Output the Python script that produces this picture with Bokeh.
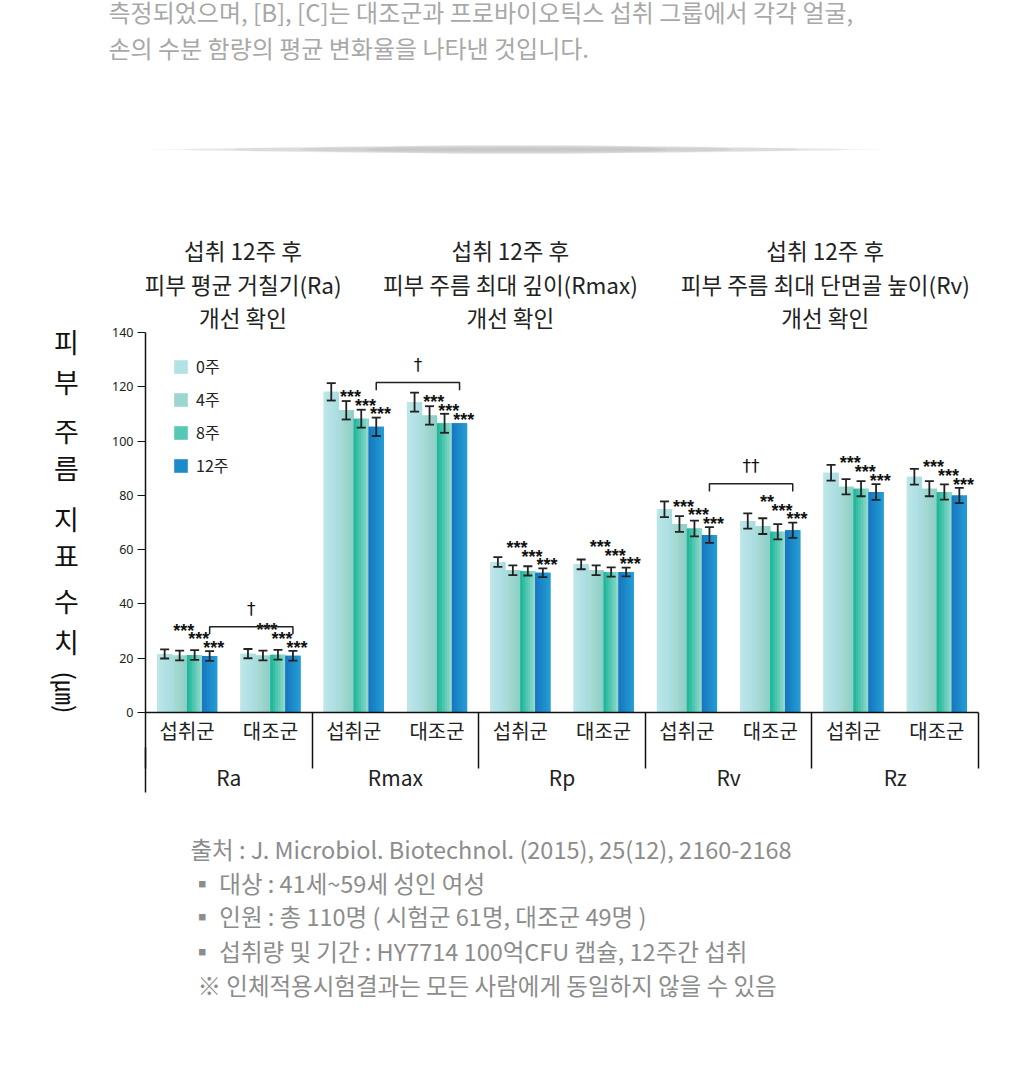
import numpy as np
from bokeh.plotting import figure
from bokeh.layouts import column, row
from bokeh.models import (ColumnDataSource, FixedTicker, LinearAxis, Range1d, Legend,
                          LegendItem, Whisker, TeeHead)
from bokeh.core.properties import value
from bokeh.embed import file_html
from bokeh.resources import INLINE

# ---------------- data ----------------
metrics = ["Ra", "Rmax", "Rp", "Rv", "Rz"]
groups = ["섭취군", "대조군"]
weeks = ["0주", "4주", "8주", "12주"]

# cluster order: Ra-섭취, Ra-대조, Rmax-섭취, Rmax-대조, Rp-섭취, Rp-대조, Rv-섭취, Rv-대조, Rz-섭취, Rz-대조
w0 = [21.6, 21.7, 118.2, 114.4, 55.5, 54.6, 74.9, 70.6, 88.4, 86.9]
w4 = [21.0, 21.0, 111.4, 109.5, 52.4, 52.4, 69.5, 68.7, 83.2, 82.5]
w8 = [21.2, 21.3, 108.3, 106.6, 52.2, 51.8, 67.8, 66.6, 82.5, 81.3]
w12 = [20.8, 20.9, 105.3, 106.6, 51.5, 51.8, 65.4, 67.2, 81.3, 80.0]

e0 = [1.7, 1.7, 3.2, 3.5, 1.8, 1.8, 2.9, 2.8, 2.9, 2.9]
e4 = [1.8, 1.8, 3.4, 3.4, 1.8, 1.8, 2.9, 2.9, 2.8, 2.8]
e8 = [1.8, 1.8, 3.3, 3.5, 1.7, 1.7, 2.9, 2.8, 2.8, 2.8]
e12 = [1.8, 1.8, 3.4, None, 1.6, 1.6, 2.9, 2.8, 2.9, 2.8]

sig4 = ["***", "***", "***", "***", "***", "***", "***", "**", "***", "***"]
sig8 = ["***"] * 10
sig12 = ["***"] * 10

bracket_metrics = ["Ra", "Rmax", "Rv"]
bracket_marks = ["†", "†", "††"]
bracket_levels = [31.6, 121.6, 84.3]

titles = [
    ["섭취 12주 후", "피부 평균 거칠기(Ra)", "개선 확인"],
    ["섭취 12주 후", "피부 주름 최대 깊이(Rmax)", "개선 확인"],
    ["섭취 12주 후", "피부 주름 최대 단면골 높이(Rv)", "개선 확인"],
]
y_ticks = [0, 20, 40, 60, 80, 100, 120, 140]
y_label_chars = ["피", "부", "주", "름", "지", "표", "수", "치"]
y_unit = "(㎛)"

top_lines = ["측정되었으며, [B], [C]는 대조군과 프로바이오틱스 섭취 그룹에서 각각 얼굴,",
             "손의 수분 함량의 평균 변화율을 나타낸 것입니다."]
notes = ["출처 : J. Microbiol. Biotechnol. (2015), 25(12), 2160-2168",
         "▪ 대상 : 41세~59세 성인 여성",
         "▪ 인원 : 총 110명 ( 시험군 61명, 대조군 49명 )",
         "▪ 섭취량 및 기간 : HY7714  100억CFU 캡슐, 12주간 섭취",
         "※ 인체적용시험결과는 모든 사람에게 동일하지 않을 수 있음"]

# ---------------- layout / style ----------------
W, H = 1024, 1092
TOP_H = 72            # top text strip
MAIN_BOTTOM = 800     # canvas y where main figure ends
LEFT_W = 100          # left strip for vertical label
FL, FR, FB = 145, 978, 712   # frame left/right/bottom in canvas px
PX_PER_UNIT = 2.713
KFONT = "Noto Sans CJK KR"
# (left edge colour, right edge colour) of each bar's horizontal gradient
grad = [("#bde6e9", "#a9dde1"), ("#a9dcd6", "#8fcfc6"),
        ("#1fb89b", "#8fd8cb"), ("#1878c1", "#229bd3")]
offsets = [-0.27, -0.09, 0.09, 0.27]
bar_w = 0.18
SLICES = 6


def mix(c1, c2, t):
    a = [int(c1[i:i + 2], 16) for i in (1, 3, 5)]
    b = [int(c2[i:i + 2], 16) for i in (1, 3, 5)]
    return "#%02x%02x%02x" % tuple(round(a[j] + (b[j] - a[j]) * t) for j in range(3))


main_h = MAIN_BOTTOM - TOP_H
main_w = W - LEFT_W
p = figure(width=main_w, height=main_h, output_backend="svg", toolbar_location=None,
           title=None, x_range=Range1d(0, 10),
           y_range=Range1d(0, (FB - TOP_H) / PX_PER_UNIT),
           min_border_left=FL - LEFT_W, min_border_right=W - FR, min_border_top=0,
           min_border_bottom=MAIN_BOTTOM - FB, background_fill_color="white",
           border_fill_color="white", outline_line_color=None)
p.grid.visible = False

n = len(w0)
centers = np.arange(n) + 0.5
series = [w0, w4, w8, w12]
errs = [e0, e4, e8, e12]
renderers = []
for k in range(4):
    xs = centers + offsets[k]
    src = ColumnDataSource(dict(x=xs, top=series[k]))
    r = p.vbar(x="x", top="top", width=bar_w, source=src,
               fill_color=mix(grad[k][0], grad[k][1], 0.5), line_color=None)
    renderers.append(r)
    # gradient slices drawn over the base bar
    sw = bar_w / SLICES
    for j in range(SLICES):
        col = mix(grad[k][0], grad[k][1], j / (SLICES - 1))
        p.vbar(x=xs - bar_w / 2 + sw * (j + 0.5), top=series[k], width=sw * 1.15,
               fill_color=col, line_color=None)
    xe, up, lo = [], [], []
    for i in range(n):
        if errs[k][i] is not None:
            xe.append(xs[i]); up.append(series[k][i] + errs[k][i]); lo.append(series[k][i] - errs[k][i])
    esrc = ColumnDataSource(dict(x=xe, upper=up, lower=lo))
    p.add_layout(Whisker(source=esrc, base="x", upper="upper", lower="lower",
                         line_color="#222222", line_width=1.8, level="annotation",
                         upper_head=TeeHead(size=9, line_width=1.8, line_color="#222222"),
                         lower_head=TeeHead(size=9, line_width=1.8, line_color="#222222")))

# significance stars (staircase above error bars)
base, step = 1.2, 3.2
sx, sy, st = [], [], []
for i in range(n):
    tops = [series[k][i] + (errs[k][i] or 0) + base for k in (1, 2, 3)]
    y12 = tops[2]
    y8 = max(tops[1], y12 + step)
    y4 = max(tops[0], y8 + step)
    for k, yy, lab in ((1, y4, sig4[i]), (2, y8, sig8[i]), (3, y12, sig12[i])):
        sx.append(centers[i] + offsets[k] + 0.05); sy.append(yy); st.append(lab)
p.text(x="x", y="y", text="t", source=ColumnDataSource(dict(x=sx, y=sy, t=st)),
       text_font=value("Liberation Sans"), text_font_size="18px", text_font_style="bold",
       text_color="#111111", text_align="center", text_baseline="middle")

# comparison brackets
drop = 2.8
bx0, by = [], []
for m, lev in zip(bracket_metrics, bracket_levels):
    mi = metrics.index(m)
    a = centers[2 * mi] + offsets[3]
    b = centers[2 * mi + 1] + offsets[3]
    p.multi_line(xs=[[a, a, b, b]], ys=[[lev - drop, lev, lev, lev - drop]],
                 line_color="#222222", line_width=1.5)
    bx0.append((a + b) / 2); by.append(lev + 6.5)
p.text(x=bx0, y=by, text=bracket_marks, text_font=value("DejaVu Sans"),
       text_font_size="17px", text_color="#111111", text_align="center",
       text_baseline="middle")

# titles
title_x = [1.17, 4.38, 8.16]
title_y = [170.3, 157.8, 145.6]
for tx, lines in zip(title_x, titles):
    p.text(x=[tx] * 3, y=title_y, text=lines, text_font=value(KFONT),
           text_font_size="22.5px", text_color="#222222", text_align="center",
           text_baseline="middle")

# decorative shadow divider
shadow_y = (FB - 149) / PX_PER_UNIT
for wdt, hgt, al in ((8.8, 1.2, 0.08), (8.0, 2.0, 0.10), (6.8, 2.8, 0.10),
                     (5.2, 3.2, 0.10), (3.6, 3.4, 0.08)):
    p.ellipse(x=[4.45], y=[shadow_y], width=wdt, height=hgt, fill_color="#777777",
              fill_alpha=al, line_color=None)

# y axis
ya = p.yaxis[0]
ya.ticker = FixedTicker(ticks=y_ticks)
ya.bounds = (0, 140)
ya.major_tick_out = 8
ya.major_tick_in = 0
ya.minor_tick_out = 0
ya.minor_tick_in = 0
ya.axis_line_width = 1.5
ya.axis_line_color = "#111111"
ya.major_tick_line_color = "#111111"
ya.major_label_text_font = "Noto Sans"
ya.major_label_text_font_size = "12.5px"
ya.major_label_text_color = "#222222"
ya.major_label_standoff = 4

# x axis (groups) with separator lines drawn as minor ticks
SEP = 56
xa = p.xaxis[0]
xa.ticker = FixedTicker(ticks=list(centers), minor_ticks=[0, 2, 4, 6, 8, 10])
xa.major_label_overrides = {float(c): groups[i % 2] for i, c in enumerate(centers)}
xa.major_tick_out = 0
xa.major_tick_in = 0
xa.minor_tick_out = SEP
xa.minor_tick_in = 0
xa.minor_tick_line_width = 1.5
xa.minor_tick_line_color = "#111111"
xa.axis_line_width = 1.5
xa.axis_line_color = "#111111"
xa.major_label_text_font = KFONT
xa.major_label_text_font_size = "20px"
xa.major_label_text_color = "#222222"
xa.major_label_standoff = 3 - SEP

# second x axis for metric names
SEP2 = 45
ax2 = LinearAxis(ticker=FixedTicker(ticks=[2 * i + 1 for i in range(5)], minor_ticks=[0]),
                 major_label_overrides={float(2 * i + 1): m for i, m in enumerate(metrics)},
                 axis_line_color=None, major_tick_out=0, major_tick_in=0,
                 minor_tick_out=SEP2, minor_tick_in=0, minor_tick_line_width=1.5,
                 minor_tick_line_color="#111111",
                 major_label_text_font=KFONT, major_label_text_font_size="21px",
                 major_label_text_color="#222222", major_label_standoff=14 - SEP2)
p.add_layout(ax2, "below")

# legend
items = [LegendItem(label=w, renderers=[r]) for w, r in zip(weeks, renderers)]
legend = Legend(items=items, location=(27, 235), orientation="vertical",
                glyph_width=17, glyph_height=17, label_height=17, spacing=9,
                padding=0, margin=0, background_fill_alpha=0, border_line_alpha=0,
                label_text_font=KFONT, label_text_font_size="16px",
                label_text_color="#222222", label_standoff=7)
p.add_layout(legend)


def text_strip(width, y0, y1, y_end=None, border_bottom=0):
    f = figure(width=width, height=y1 - y0, output_backend="svg", toolbar_location=None,
               title=None, x_range=Range1d(0, width),
               y_range=Range1d(y1 - border_bottom, y0),
               min_border=0, min_border_bottom=border_bottom,
               x_axis_location=None, y_axis_location=None,
               outline_line_color=None, background_fill_color="white",
               border_fill_color="white")
    f.grid.visible = False
    return f


# top strip: paragraph (first line partly cut off at the top edge, as in the source)
top = text_strip(W, 0, TOP_H)
top.text(x=[108, 108], y=[11, 47], text=top_lines, text_font=value(KFONT),
         text_font_size="24px", text_color="#a8a8a8", text_align="left",
         text_baseline="middle")

# left strip: vertical axis label (frame aligned with the main frame)
left = text_strip(LEFT_W, TOP_H, MAIN_BOTTOM, border_bottom=MAIN_BOTTOM - FB)
char_y = [341, 381, 430, 467, 518, 555, 600, 641]
left.text(x=[66] * len(char_y), y=char_y, text=y_label_chars, text_font=value(KFONT),
          text_font_size="27px", text_color="#111111", text_align="center",
          text_baseline="middle")
left.text(x=[66], y=[692], text=[y_unit], text_font=value(KFONT), text_font_size="25px",
          text_color="#111111", text_align="center", text_baseline="middle",
          angle=-np.pi / 2)

# bottom strip: notes
bottom = text_strip(W, MAIN_BOTTOM, H)
note_x = [190, 190, 190, 190, 197]
note_y = [848, 882, 915, 950, 984]
bottom.text(x=note_x, y=note_y, text=notes, text_font=value(KFONT), text_font_size="23.5px",
            text_color="#8c8c8c", text_align="left", text_baseline="middle")

layout = column(top, row(left, p, spacing=0), bottom, spacing=0)
open("out.html", "w").write(file_html(layout, INLINE))
